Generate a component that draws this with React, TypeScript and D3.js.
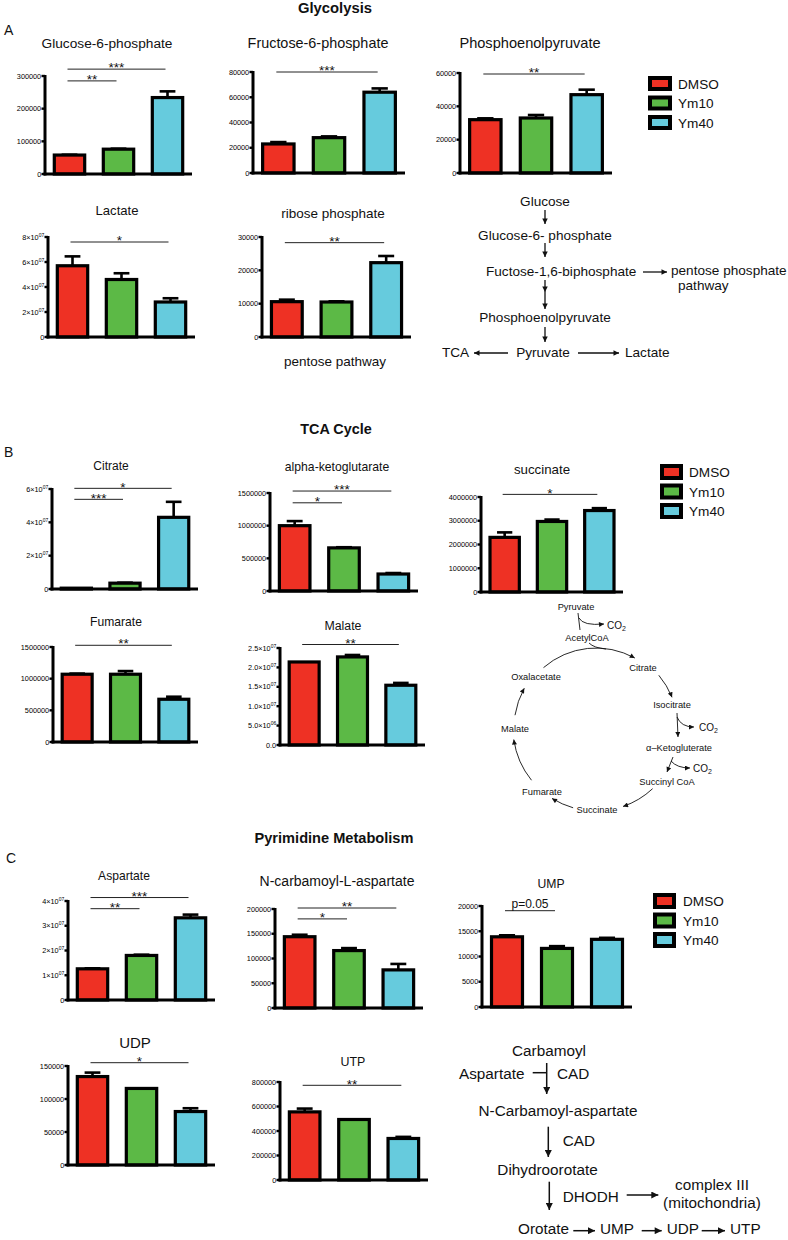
import React, { useEffect, useRef } from 'react';
import * as d3 from 'd3';

const FONT = '"Liberation Sans", Arial, sans-serif';

const groups = ['DMSO', 'Ym10', 'Ym40'];
const colors = ['#ee3124', '#5cb946', '#66cbdd'];

// Glycolysis
const g6pMean = [58000, 76000, 234000];
const g6pErr = [1000, 1500, 19000];
const g6pTicks = [0, 100000, 200000, 300000];
const g6pSig = [{ a: 0, b: 2, label: '***', at: 321000 }, { a: 0, b: 1, label: '**', at: 285000 }];

const f6pMean = [23000, 28000, 64000];
const f6pErr = [1500, 1000, 3000];
const f6pTicks = [0, 20000, 40000, 60000, 80000];
const f6pSig = [{ a: 0, b: 2, label: '***', at: 80000 }];

const pepMean = [32000, 33000, 47000];
const pepErr = [800, 1800, 3000];
const pepTicks = [0, 20000, 40000, 60000];
const pepSig = [{ a: 0, b: 2, label: '**', at: 59400 }];

const lacMean = [5.7e7, 4.6e7, 2.8e7];
const lacErr = [0.75e7, 0.5e7, 0.3e7];
const lacTicks = [0, 2e7, 4e7, 6e7, 8e7];
const lacSig = [{ a: 0, b: 2, label: '*', at: 7.6e7 }];

const ribMean = [10600, 10500, 22300];
const ribErr = [600, 200, 2000];
const ribTicks = [0, 10000, 20000, 30000];
const ribSig = [{ a: 0, b: 2, label: '**', at: 28300 }];

// TCA cycle
const citMean = [0.5e6, 3.5e6, 4.3e7];
const citErr = [0, 0.3e6, 0.93e7];
const citTicks = [0, 2e7, 4e7, 6e7];
const citSig = [{ a: 0, b: 2, label: '*', at: 6.04e7 }, { a: 0, b: 1, label: '***', at: 5.38e7 }];

const akgMean = [1000000, 660000, 260000];
const akgErr = [70000, 10000, 15000];
const akgTicks = [0, 500000, 1000000, 1500000];
const akgSig = [{ a: 0, b: 2, label: '***', at: 1530000 }, { a: 0, b: 1, label: '*', at: 1350000 }];

const sucMean = [2300000, 2970000, 3430000];
const sucErr = [210000, 80000, 100000];
const sucTicks = [0, 1000000, 2000000, 3000000, 4000000];
const sucSig = [{ a: 0, b: 2, label: '*', at: 4110000 }];

const fumMean = [1070000, 1070000, 675000];
const fumErr = [10000, 50000, 40000];
const fumTicks = [0, 500000, 1000000, 1500000];
const fumSig = [{ a: 0, b: 2, label: '**', at: 1527000 }];

const malMean = [2.14e7, 2.27e7, 1.54e7];
const malErr = [0, 5e5, 6e5];
const malTicks = [0, 5e6, 1e7, 1.5e7, 2e7, 2.5e7];
const malSig = [{ a: 0, b: 2, label: '**', at: 2.59e7 }];

// Pyrimidine metabolism
const aspMean = [1.26e7, 1.8e7, 3.32e7];
const aspErr = [2e5, 3e5, 1.3e6];
const aspTicks = [0, 1e7, 2e7, 3e7, 4e7];
const aspSig = [{ a: 0, b: 2, label: '***', at: 4.14e7 }, { a: 0, b: 1, label: '**', at: 3.69e7 }];

const ncaMean = [144000, 116000, 77000];
const ncaErr = [4000, 5000, 12000];
const ncaTicks = [0, 50000, 100000, 150000, 200000];
const ncaSig = [{ a: 0, b: 2, label: '**', at: 202000 }, { a: 0, b: 1, label: '*', at: 180000 }];

const umpMean = [13900, 11600, 13400];
const umpErr = [300, 450, 300];
const umpTicks = [0, 5000, 10000, 15000, 20000];
const umpSig = [{ a: 0, b: 1, label: 'p=0.05', at: 19070 }];

const udpMean = [134000, 116000, 81000];
const udpErr = [6000, 0, 5000];
const udpTicks = [0, 50000, 100000, 150000];
const udpSig = [{ a: 0, b: 2, label: '*', at: 155000 }];

const utpMean = [556000, 494000, 339000];
const utpErr = [27000, 0, 13000];
const utpTicks = [0, 200000, 400000, 600000, 800000];
const utpSig = [{ a: 0, b: 2, label: '**', at: 773000 }];

const App = () => {
  const svgRef = useRef<SVGSVGElement>(null);

  useEffect(() => {
    const svg = d3.select(svgRef.current);
    svg.selectAll('*').remove();

    const txt = (x: number, y: number, s: string, size: number, anchor = 'start', weight = 'normal') =>
      svg.append('text')
        .attr('x', x).attr('y', y)
        .attr('font-family', FONT).attr('font-size', size)
        .attr('font-weight', weight).attr('text-anchor', anchor)
        .attr('fill', '#111')
        .text(s);

    // arrow markers
    const defs = svg.append('defs');
    const marker = (id: string, len: number, wid: number) => {
      defs.append('marker')
        .attr('id', id).attr('viewBox', '0 0 10 10')
        .attr('refX', 10).attr('refY', 5)
        .attr('markerWidth', len).attr('markerHeight', wid)
        .attr('markerUnits', 'userSpaceOnUse').attr('orient', 'auto')
        .append('path').attr('d', 'M0,0L10,5L0,10Z').attr('fill', '#111');
    };
    marker('ahS', 6, 5);
    marker('ahM', 8, 5.5);
    marker('ahL', 10, 7);

    const arrow = (x1: number, y1: number, x2: number, y2: number, m: string, sw = 1.3) =>
      svg.append('line').attr('x1', x1).attr('y1', y1).attr('x2', x2).attr('y2', y2)
        .attr('stroke', '#111').attr('stroke-width', sw).attr('marker-end', m ? `url(#${m})` : null);

    const curve = (d: string, m: string | null, sw = 0.9) =>
      svg.append('path').attr('d', d).attr('fill', 'none')
        .attr('stroke', '#111').attr('stroke-width', sw).attr('marker-end', m ? `url(#${m})` : null);

    const tickLabel = (g: any, v: number, fmt: string, x: number, y: number) => {
      const t = g.append('text').attr('x', x).attr('y', y).attr('dy', '0.35em')
        .attr('text-anchor', 'end').attr('font-family', FONT).attr('font-size', 7.3).attr('fill', '#000');
      if (fmt === 'int' || (v === 0 && fmt === 'sci0')) {
        t.text(d3.format('d')(v));
        return;
      }
      if (v === 0) { t.text('0.0'); return; }
      const e = Math.floor(Math.log10(v) + 1e-9);
      const m = v / Math.pow(10, e);
      t.append('tspan').text(`${m.toFixed(fmt === 'sci1' ? 1 : 0)}×10`);
      t.append('tspan').attr('font-size', 5).attr('dy', -3).text(String(e).padStart(2, '0'));
    };

    const drawChart = (c: any) => {
      const g = svg.append('g');
      const x = d3.scaleBand().domain(groups)
        .range([c.x, c.x + c.w]).paddingInner(0.38).paddingOuter(0.19);
      const y = d3.scaleLinear().domain([0, c.ticks[c.ticks.length - 1]]).range([c.base, c.top]);
      const bw = x.bandwidth();

      g.append('text').attr('x', c.tx).attr('y', c.ty)
        .attr('text-anchor', 'middle').attr('font-family', FONT).attr('font-size', c.ts)
        .attr('fill', '#111').text(c.title);

      // error bars (upper only)
      c.mean.forEach((m: number, i: number) => {
        const e = c.err[i];
        if (!e) return;
        const cx = (x(groups[i]) as number) + bw / 2;
        g.append('line').attr('x1', cx).attr('x2', cx).attr('y1', y(m)).attr('y2', y(m + e))
          .attr('stroke', '#000').attr('stroke-width', 2.6);
        g.append('line').attr('x1', cx - bw * 0.26).attr('x2', cx + bw * 0.26)
          .attr('y1', y(m + e)).attr('y2', y(m + e))
          .attr('stroke', '#000').attr('stroke-width', 2.6);
      });

      g.selectAll('rect.bar').data(c.mean).join('rect')
        .attr('class', 'bar')
        .attr('x', (d: any, i: number) => x(groups[i]) as number)
        .attr('y', (d: any) => y(d))
        .attr('width', bw)
        .attr('height', (d: any) => y(0) - y(d))
        .attr('fill', (d: any, i: number) => colors[i])
        .attr('stroke', '#000').attr('stroke-width', 3.2);

      // axes
      g.append('line').attr('x1', c.x).attr('x2', c.x).attr('y1', c.base + 1.5).attr('y2', c.top - 1)
        .attr('stroke', '#000').attr('stroke-width', 3);
      g.append('line').attr('x1', c.x - 1.5).attr('x2', c.x + c.w).attr('y1', c.base).attr('y2', c.base)
        .attr('stroke', '#000').attr('stroke-width', 3.2);
      c.ticks.forEach((t: number) => {
        g.append('line').attr('x1', c.x - 3.5).attr('x2', c.x).attr('y1', y(t)).attr('y2', y(t))
          .attr('stroke', '#000').attr('stroke-width', 2.4);
        tickLabel(g, t, c.fmt, c.x - 3.8, y(t));
      });

      // significance brackets
      c.sig.forEach((s: any) => {
        const x1 = (x(groups[s.a]) as number) + bw / 2 - 2;
        const x2 = (x(groups[s.b]) as number) + bw / 2 - 2;
        const yy = y(s.at);
        g.append('line').attr('x1', x1).attr('x2', x2).attr('y1', yy).attr('y2', yy)
          .attr('stroke', '#222').attr('stroke-width', 1);
        const isP = s.label.startsWith('p');
        g.append('text').attr('x', (x1 + x2) / 2).attr('y', isP ? yy - 2.5 : yy + 3.2)
          .attr('text-anchor', 'middle').attr('font-family', FONT)
          .attr('font-size', isP ? 12 : 13.5).attr('fill', '#111').text(s.label);
      });
    };

    const charts = [
      { title: 'Glucose-6-phosphate', ts: 13.7, tx: 107, ty: 48, x: 45, top: 76, base: 174, w: 147, mean: g6pMean, err: g6pErr, ticks: g6pTicks, fmt: 'int', sig: g6pSig },
      { title: 'Fructose-6-phosphate', ts: 14.4, tx: 318, ty: 48, x: 253, top: 72, base: 173, w: 152, mean: f6pMean, err: f6pErr, ticks: f6pTicks, fmt: 'int', sig: f6pSig },
      { title: 'Phosphoenolpyruvate', ts: 14.6, tx: 530, ty: 48, x: 460, top: 73, base: 173, w: 152, mean: pepMean, err: pepErr, ticks: pepTicks, fmt: 'int', sig: pepSig },
      { title: 'Lactate', ts: 13.1, tx: 117, ty: 215, x: 48, top: 237, base: 337, w: 147, mean: lacMean, err: lacErr, ticks: lacTicks, fmt: 'sci0', sig: lacSig },
      { title: 'ribose phosphate', ts: 13.5, tx: 333, ty: 218, x: 262, top: 237, base: 337, w: 149, mean: ribMean, err: ribErr, ticks: ribTicks, fmt: 'int', sig: ribSig },
      { title: 'Citrate', ts: 12, tx: 111, ty: 469.5, x: 52, top: 489, base: 589, w: 146, mean: citMean, err: citErr, ticks: citTicks, fmt: 'sci0', sig: citSig },
      { title: 'alpha-ketoglutarate', ts: 12.2, tx: 337, ty: 471, x: 270, top: 493, base: 591, w: 148, mean: akgMean, err: akgErr, ticks: akgTicks, fmt: 'int', sig: akgSig },
      { title: 'succinate', ts: 13.3, tx: 542, ty: 474, x: 481, top: 497, base: 592, w: 142, mean: sucMean, err: sucErr, ticks: sucTicks, fmt: 'int', sig: sucSig },
      { title: 'Fumarate', ts: 12.1, tx: 116, ty: 626, x: 53, top: 647, base: 742, w: 145, mean: fumMean, err: fumErr, ticks: fumTicks, fmt: 'int', sig: fumSig },
      { title: 'Malate', ts: 12.3, tx: 343, ty: 629.5, x: 280, top: 648, base: 745, w: 145, mean: malMean, err: malErr, ticks: malTicks, fmt: 'sci1', sig: malSig },
      { title: 'Aspartate', ts: 12.1, tx: 124, ty: 879.5, x: 68, top: 901, base: 1000, w: 147, mean: aspMean, err: aspErr, ticks: aspTicks, fmt: 'sci0', sig: aspSig },
      { title: 'N-carbamoyl-L-aspartate', ts: 14, tx: 337, ty: 886, x: 275, top: 909, base: 1008, w: 148, mean: ncaMean, err: ncaErr, ticks: ncaTicks, fmt: 'int', sig: ncaSig },
      { title: 'UMP', ts: 12.2, tx: 551, ty: 888, x: 482, top: 906, base: 1007, w: 150, mean: umpMean, err: umpErr, ticks: umpTicks, fmt: 'int', sig: umpSig },
      { title: 'UDP', ts: 15, tx: 135, ty: 1048, x: 68, top: 1066, base: 1165, w: 147, mean: udpMean, err: udpErr, ticks: udpTicks, fmt: 'int', sig: udpSig },
      { title: 'UTP', ts: 12.4, tx: 353, ty: 1066, x: 280, top: 1082, base: 1180, w: 148, mean: utpMean, err: utpErr, ticks: utpTicks, fmt: 'int', sig: utpSig },
    ];
    charts.forEach(drawChart);

    // legends
    const legend = (lx: number, ly: number, bwid: number, bh: number, tx: number) => {
      groups.forEach((name, i) => {
        const yy = ly + i * 19.5;
        svg.append('rect').attr('x', lx + 2).attr('y', yy + 2).attr('width', bwid - 4).attr('height', bh - 4)
          .attr('fill', colors[i]).attr('stroke', '#000').attr('stroke-width', 4);
        txt(tx, yy + bh / 2 + 5, name, 13.6);
      });
    };
    legend(648, 76, 24, 15, 678);
    legend(660, 464, 23, 16, 689);
    legend(653, 893, 23, 16, 683);

    // section headings and panel letters
    txt(335, 13, 'Glycolysis', 14.8, 'middle', 'bold');
    txt(336, 434, 'TCA Cycle', 14.4, 'middle', 'bold');
    txt(334, 843, 'Pyrimidine Metabolism', 14.6, 'middle', 'bold');
    txt(4, 35, 'A', 14);
    txt(4, 457, 'B', 14);
    txt(6, 863, 'C', 14);
    txt(335, 366, 'pentose pathway', 13.5, 'middle');

    // glycolysis pathway
    const gx = 545;
    const gs = 13.6;
    txt(gx, 206, 'Glucose', gs, 'middle');
    arrow(gx, 210, gx, 224, 'ahM');
    txt(gx, 239.5, 'Glucose-6- phosphate', gs, 'middle');
    arrow(gx, 243, gx, 257, 'ahM');
    txt(486, 275.5, 'Fuctose-1,6-biphosphate', gs, 'start');
    arrow(643, 272, 667, 272, 'ahM');
    txt(671, 275, 'pentose phosphate', gs, 'start');
    txt(678, 290, 'pathway', gs, 'start');
    arrow(gx, 280, gx, 292, 'ahM');
    arrow(gx, 292, gx, 309, 'ahM');
    txt(gx, 322, 'Phosphoenolpyruvate', gs, 'middle');
    arrow(gx, 327, gx, 342, 'ahM');
    txt(543, 357, 'Pyruvate', gs, 'middle');
    txt(442, 357, 'TCA', gs, 'start');
    arrow(508, 353, 474, 353, 'ahM');
    arrow(578, 353, 619, 353, 'ahM');
    txt(625, 357, 'Lactate', gs, 'start');

    // TCA cycle diagram
    const cx = 596, cy = 728;
    const ts = 9.3;
    const arcPath = (a0: number, a1: number, r: number) => {
      const p = d3.path();
      p.arc(cx, cy, r, (a0 * Math.PI) / 180, (a1 * Math.PI) / 180, a1 < a0);
      return p.toString();
    };
    const co2 = (x: number, y: number) => {
      const t = svg.append('text').attr('x', x).attr('y', y).attr('font-family', FONT)
        .attr('font-size', 10).attr('fill', '#111');
      t.append('tspan').text('CO');
      t.append('tspan').attr('font-size', 7).attr('dy', 2.5).text('2');
    };
    txt(576, 610, 'Pyruvate', ts, 'middle');
    curve('M578,613 L580,630', null);
    curve('M579,618 Q583,626 604,624', 'ahS');
    co2(607, 628.5);
    txt(587, 641, 'AcetylCoA', ts, 'middle');
    curve(arcPath(-131, -61, 80), 'ahS');
    curve('M589,643 Q594,648 606,649', null);
    txt(643, 671, 'Citrate', ts, 'middle');
    curve(arcPath(-40, -22, 82), 'ahS');
    txt(672, 707.5, 'Isocitrate', ts, 'middle');
    curve('M677,713 L678,737', 'ahS');
    curve('M677,717 Q681,727 694,727', 'ahS');
    co2(699, 730.5);
    txt(679, 751, 'α–Ketogluterate', ts, 'middle');
    curve('M673,757 L667,772', 'ahS');
    curve('M671,761 Q677,768 690,768', 'ahS');
    co2(693, 771.5);
    txt(667, 785, 'Succinyl CoA', ts, 'middle');
    curve(arcPath(47, 71, 83), 'ahS');
    txt(597, 813, 'Succinate', ts, 'middle');
    curve(arcPath(106, 122, 83), 'ahS');
    txt(542, 795, 'Fumarate', ts, 'middle');
    curve(arcPath(141, 172, 83), 'ahS');
    txt(515, 731.5, 'Malate', ts, 'middle');
    curve(arcPath(189, 209, 82), 'ahS');
    txt(536, 680, 'Oxalacetate', ts, 'middle');

    // pyrimidine pathway
    const ps = 15.3;
    txt(549, 1056, 'Carbamoyl', ps, 'middle');
    txt(459, 1078.5, 'Aspartate', ps, 'start');
    arrow(532.7, 1072.7, 546.7, 1072.7, '', 1.5);
    arrow(546.7, 1063, 546.7, 1094, 'ahL', 1.5);
    txt(557, 1078.5, 'CAD', ps, 'start');
    txt(558, 1115.5, 'N-Carbamoyl-aspartate', ps, 'middle');
    arrow(548.3, 1126.7, 548.3, 1157, 'ahL', 1.5);
    txt(562.7, 1145.5, 'CAD', ps, 'start');
    txt(547.5, 1175, 'Dihydroorotate', ps, 'middle');
    arrow(549.3, 1181.7, 549.3, 1210, 'ahL', 1.5);
    txt(562.7, 1202, 'DHODH', ps, 'start');
    arrow(626.7, 1195, 658.3, 1195, 'ahL', 1.5);
    txt(712, 1190, 'complex III', ps, 'middle');
    txt(712, 1208, '(mitochondria)', ps, 'middle');
    txt(518, 1234, 'Orotate', ps, 'start');
    arrow(573.3, 1230.7, 595, 1230.7, 'ahL', 1.5);
    txt(600, 1234, 'UMP', ps, 'start');
    arrow(641.7, 1230.7, 661.7, 1230.7, 'ahL', 1.5);
    txt(666.7, 1234, 'UDP', ps, 'start');
    arrow(701.7, 1230.7, 725, 1230.7, 'ahL', 1.5);
    txt(730, 1234, 'UTP', ps, 'start');
  }, []);

  return (
    <svg
      ref={svgRef}
      width={788}
      height={1240}
      style={{ position: 'absolute', left: 0, top: 0, background: '#fff' }}
    />
  );
};

export default App;
